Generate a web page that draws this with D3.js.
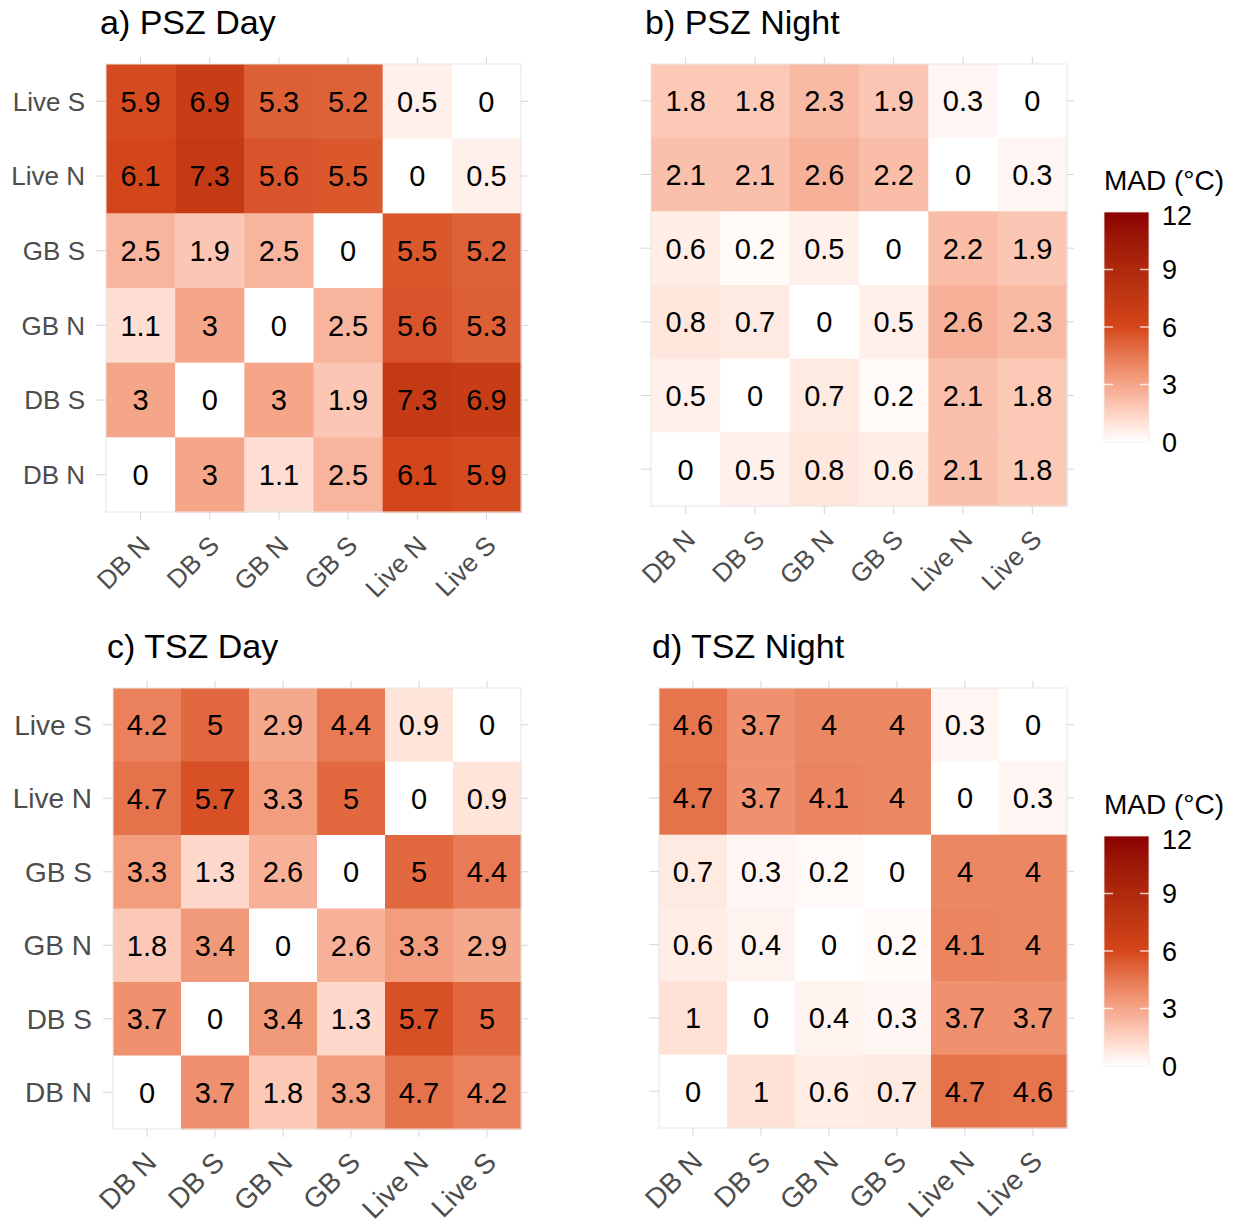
<!DOCTYPE html>
<html>
<head>
<meta charset="utf-8">
<script src="https://cdn.jsdelivr.net/npm/d3@7"></script>
<style>
  body { margin: 0; background: #fff; }
  svg { font-family: "Liberation Sans", Arial, Helvetica, sans-serif; }
</style>
</head>
<body>
<div id="chart"></div>
<script>
// categories
const cols = ["DB N", "DB S", "GB N", "GB S", "Live N", "Live S"];
const rows = ["Live S", "Live N", "GB S", "GB N", "DB S", "DB N"]; // top to bottom

// MAD values, row by row (same order as rows), columns as cols
const pszDay = [
  [5.9, 6.9, 5.3, 5.2, 0.5, 0],
  [6.1, 7.3, 5.6, 5.5, 0, 0.5],
  [2.5, 1.9, 2.5, 0, 5.5, 5.2],
  [1.1, 3, 0, 2.5, 5.6, 5.3],
  [3, 0, 3, 1.9, 7.3, 6.9],
  [0, 3, 1.1, 2.5, 6.1, 5.9]
];
const pszNight = [
  [1.8, 1.8, 2.3, 1.9, 0.3, 0],
  [2.1, 2.1, 2.6, 2.2, 0, 0.3],
  [0.6, 0.2, 0.5, 0, 2.2, 1.9],
  [0.8, 0.7, 0, 0.5, 2.6, 2.3],
  [0.5, 0, 0.7, 0.2, 2.1, 1.8],
  [0, 0.5, 0.8, 0.6, 2.1, 1.8]
];
const tszDay = [
  [4.2, 5, 2.9, 4.4, 0.9, 0],
  [4.7, 5.7, 3.3, 5, 0, 0.9],
  [3.3, 1.3, 2.6, 0, 5, 4.4],
  [1.8, 3.4, 0, 2.6, 3.3, 2.9],
  [3.7, 0, 3.4, 1.3, 5.7, 5],
  [0, 3.7, 1.8, 3.3, 4.7, 4.2]
];
const tszNight = [
  [4.6, 3.7, 4, 4, 0.3, 0],
  [4.7, 3.7, 4.1, 4, 0, 0.3],
  [0.7, 0.3, 0.2, 0, 4, 4],
  [0.6, 0.4, 0, 0.2, 4.1, 4],
  [1, 0, 0.4, 0.3, 3.7, 3.7],
  [0, 1, 0.6, 0.7, 4.7, 4.6]
];
const legendTicks = [0, 3, 6, 9, 12];

const W = 1239, H = 1224;
const svg = d3.select("#chart").append("svg")
  .attr("width", W).attr("height", H)
  .attr("viewBox", `0 0 ${W} ${H}`);

const color = d3.scaleLinear()
  .domain([0, 6, 12])
  .range(["#ffffff", "#d4461a", "#8b0000"])
  .interpolate(d3.interpolateLab);

const panels = [
  {title: "a) PSZ Day", data: pszDay, x0: 106, x1: 521, y0: 64, y1: 512, tx: 100, ty: 34, ylab: true, fs: 26},
  {title: "b) PSZ Night", data: pszNight, x0: 651, x1: 1067, y0: 64, y1: 506, tx: 645, ty: 34, ylab: false, fs: 26},
  {title: "c) TSZ Day", data: tszDay, x0: 113, x1: 521, y0: 688, y1: 1129, tx: 107, ty: 658, ylab: true, fs: 28},
  {title: "d) TSZ Night", data: tszNight, x0: 659, x1: 1067, y0: 688, y1: 1128, tx: 652, ty: 658, ylab: false, fs: 28}
];

panels.forEach(p => {
  const x = d3.scaleBand().domain(cols).range([p.x0, p.x1]);
  const y = d3.scaleBand().domain(rows).range([p.y0, p.y1]);
  const g = svg.append("g");

  const cells = [];
  p.data.forEach((r, i) => r.forEach((v, j) => cells.push({row: rows[i], col: cols[j], v})));

  g.selectAll("rect.cell").data(cells).enter().append("rect")
    .attr("class", "cell")
    .attr("x", d => x(d.col))
    .attr("y", d => y(d.row))
    .attr("width", x.bandwidth() + 0.5)
    .attr("height", y.bandwidth() + 0.5)
    .attr("fill", d => color(d.v));

  g.selectAll("text.val").data(cells).enter().append("text")
    .attr("class", "val")
    .attr("x", d => x(d.col) + x.bandwidth() / 2)
    .attr("y", d => y(d.row) + y.bandwidth() / 2)
    .attr("dy", "0.36em")
    .attr("text-anchor", "middle")
    .attr("font-size", 29)
    .attr("fill", "#000")
    .text(d => d.v);

  // light frame
  g.append("rect")
    .attr("x", p.x0).attr("y", p.y0)
    .attr("width", p.x1 - p.x0).attr("height", p.y1 - p.y0)
    .attr("fill", "none").attr("stroke", "#e6e6e6").attr("stroke-width", 1);

  // ticks on all four sides
  const tickCol = "#d6d6d6";
  const axes = [
    g.append("g").attr("transform", `translate(0,${p.y1})`).call(d3.axisBottom(x).tickSize(8).tickFormat("")),
    g.append("g").attr("transform", `translate(0,${p.y0})`).call(d3.axisTop(x).tickSize(7).tickFormat("")),
    g.append("g").attr("transform", `translate(${p.x0},0)`).call(d3.axisLeft(y).tickSize(10).tickFormat("")),
    g.append("g").attr("transform", `translate(${p.x1},0)`).call(d3.axisRight(y).tickSize(7).tickFormat(""))
  ];
  axes.forEach(a => {
    a.select(".domain").remove();
    a.selectAll("line").attr("stroke", tickCol);
  });

  // x labels, rotated
  g.selectAll("text.xl").data(cols).enter().append("text")
    .attr("class", "xl")
    .attr("transform", d => `translate(${x(d) + x.bandwidth() / 2 + 11},${p.y1 + 35}) rotate(-45)`)
    .attr("text-anchor", "end")
    .attr("font-size", p.fs)
    .attr("fill", "#4d4d4d")
    .text(d => d);

  if (p.ylab) {
    g.selectAll("text.yl").data(rows).enter().append("text")
      .attr("class", "yl")
      .attr("x", p.x0 - 21)
      .attr("y", d => y(d) + y.bandwidth() / 2)
      .attr("dy", "0.36em")
      .attr("text-anchor", "end")
      .attr("font-size", p.fs)
      .attr("fill", "#4d4d4d")
      .text(d => d);
  }

  g.append("text")
    .attr("x", p.tx).attr("y", p.ty)
    .attr("font-size", 34)
    .attr("fill", "#000")
    .text(p.title);
});

// colour legends
const defs = svg.append("defs");
const grad = defs.append("linearGradient").attr("id", "madGrad")
  .attr("x1", "0").attr("y1", "1").attr("x2", "0").attr("y2", "0");
d3.range(0, 12.01, 0.5).forEach(v => {
  grad.append("stop").attr("offset", v / 12).attr("stop-color", color(v));
});

[{top: 212, titleY: 190}, {top: 836, titleY: 814}].forEach(l => {
  const bx = 1104, bw = 45, bh = 230;
  const ly = d3.scaleLinear().domain([0, 12]).range([l.top + bh, l.top]);
  const g = svg.append("g");
  g.append("text")
    .attr("x", bx).attr("y", l.titleY)
    .attr("font-size", 28).attr("fill", "#000")
    .text("MAD (°C)");
  g.append("rect")
    .attr("x", bx).attr("y", l.top)
    .attr("width", bw).attr("height", bh)
    .attr("fill", "url(#madGrad)")
    .attr("stroke", "#eeeeee").attr("stroke-width", 0.8);
  const inner = legendTicks.filter(t => t > 0 && t < 12);
  g.selectAll("line.tl").data(inner).enter().append("line")
    .attr("x1", bx).attr("x2", bx + 9)
    .attr("y1", d => ly(d)).attr("y2", d => ly(d))
    .attr("stroke", "#fff").attr("stroke-opacity", 0.75).attr("stroke-width", 1.5);
  g.selectAll("line.tr").data(inner).enter().append("line")
    .attr("x1", bx + bw - 9).attr("x2", bx + bw)
    .attr("y1", d => ly(d)).attr("y2", d => ly(d))
    .attr("stroke", "#fff").attr("stroke-opacity", 0.75).attr("stroke-width", 1.5);
  g.selectAll("text.lt").data(legendTicks).enter().append("text")
    .attr("x", bx + bw + 13)
    .attr("y", d => ly(d) + (d === 12 ? 3 : 0))
    .attr("dy", "0.36em")
    .attr("font-size", 27).attr("fill", "#000")
    .text(d => d);
});
</script>
</body>
</html>
